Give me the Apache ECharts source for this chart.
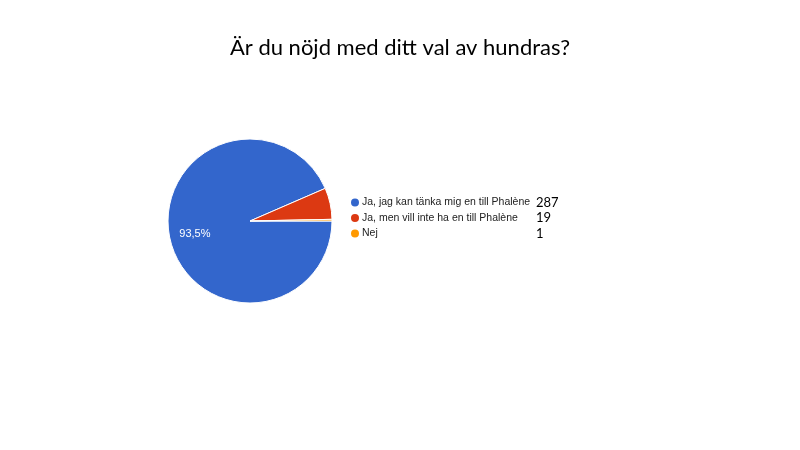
<!DOCTYPE html>
<html>
<head>
<meta charset="utf-8">
<script src="https://cdn.jsdelivr.net/npm/echarts@6/dist/echarts.min.js"></script>
<style>
  html, body { margin: 0; padding: 0; background: #fff; }
  #chart-container { width: 800px; height: 450px; }
</style>
</head>
<body>
<div id="chart-container"></div>
<script>
var titleText = "Är du nöjd med ditt val av hundras?";
var nameData = ["Ja, jag kan tänka mig en till Phalène", "Ja, men vill inte ha en till Phalène", "Nej"];
var valueData = [287, 19, 1];
var colorData = ["#3366cc", "#dc3912", "#ff9900"];

var dom = document.getElementById("chart-container");
var myChart = echarts.init(dom, null, {
  renderer: "canvas",
  useDirtyRect: false
});

var total = valueData.reduce((a, b) => a + b, 0);

var seriesData = nameData.map((name, i) => ({
  name: name,
  value: valueData[i],
  itemStyle: { color: colorData[i] }
}));

var option = {
  title: {
    text: titleText,
    left: "center",
    top: 32,
    textStyle: {
      fontFamily: "Lato",
      fontSize: 22,
      fontWeight: "normal",
      color: "#000"
    }
  },
  legend: {
    orient: "vertical",
    left: 344,
    top: 191,
    itemWidth: 10,
    itemHeight: 10,
    itemGap: 2.5,
    icon: "circle",
    data: nameData,
    formatter: function (name) {
      var i = nameData.indexOf(name);
      return "{a|" + name + "}{b|" + valueData[i] + "}";
    },
    textStyle: {
      padding: [0, 0, 0, -3],
      rich: {
        a: { fontFamily: "Liberation Sans", fontSize: 10.5, color: "#222", width: 174, lineHeight: 12 },
        b: { fontFamily: "Lato", fontSize: 13, color: "#000", lineHeight: 12 }
      }
    }
  },
  series: [
    {
      type: "pie",
      center: [250, 221],
      radius: 82,
      startAngle: 0,
      clockwise: true,
      itemStyle: { borderColor: "#fff", borderWidth: 1 },
      label: {
        position: "inside",
        color: "#fff",
        fontFamily: "Liberation Sans",
        fontSize: 11,
        offset: [-12, 4],
        formatter: function (p) {
          if (p.value / total < 0.1) return "";
          return (p.value / total * 100).toFixed(1).replace(".", ",") + "%";
        }
      },
      labelLine: { show: false },
      emphasis: { disabled: true },
      data: seriesData
    }
  ]
};

myChart.setOption(option);
window.addEventListener("resize", myChart.resize);
</script>
</body>
</html>
